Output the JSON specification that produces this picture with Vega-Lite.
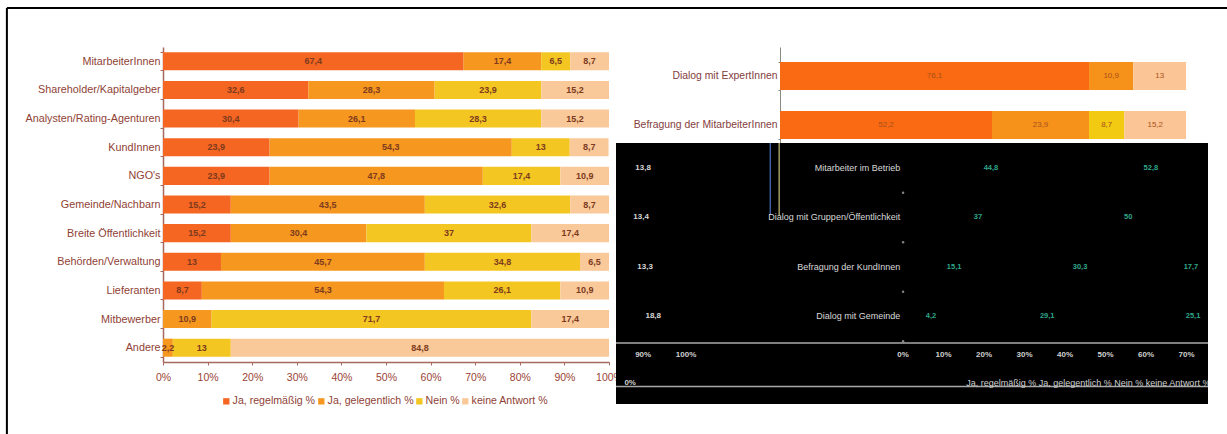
{
  "$schema": "https://vega.github.io/schema/vega-lite/v6.json",
  "padding": {"left": 5, "top": 7, "right": 0, "bottom": 0},
  "background": "#ffffff",
  "config": {
    "font": "Liberation Sans",
    "view": {"stroke": null}
  },
  "datasets": {
    "stakeholder": [
      {"gruppe": "MitarbeiterInnen", "antwort": "Ja, regelmäßig %", "ord": 1, "value": 67.4},
      {"gruppe": "MitarbeiterInnen", "antwort": "Ja, gelegentlich %", "ord": 2, "value": 17.4},
      {"gruppe": "MitarbeiterInnen", "antwort": "Nein %", "ord": 3, "value": 6.5},
      {"gruppe": "MitarbeiterInnen", "antwort": "keine Antwort %", "ord": 4, "value": 8.7},
      {"gruppe": "Shareholder/Kapitalgeber", "antwort": "Ja, regelmäßig %", "ord": 1, "value": 32.6},
      {"gruppe": "Shareholder/Kapitalgeber", "antwort": "Ja, gelegentlich %", "ord": 2, "value": 28.3},
      {"gruppe": "Shareholder/Kapitalgeber", "antwort": "Nein %", "ord": 3, "value": 23.9},
      {"gruppe": "Shareholder/Kapitalgeber", "antwort": "keine Antwort %", "ord": 4, "value": 15.2},
      {"gruppe": "Analysten/Rating-Agenturen", "antwort": "Ja, regelmäßig %", "ord": 1, "value": 30.4},
      {"gruppe": "Analysten/Rating-Agenturen", "antwort": "Ja, gelegentlich %", "ord": 2, "value": 26.1},
      {"gruppe": "Analysten/Rating-Agenturen", "antwort": "Nein %", "ord": 3, "value": 28.3},
      {"gruppe": "Analysten/Rating-Agenturen", "antwort": "keine Antwort %", "ord": 4, "value": 15.2},
      {"gruppe": "KundInnen", "antwort": "Ja, regelmäßig %", "ord": 1, "value": 23.9},
      {"gruppe": "KundInnen", "antwort": "Ja, gelegentlich %", "ord": 2, "value": 54.3},
      {"gruppe": "KundInnen", "antwort": "Nein %", "ord": 3, "value": 13},
      {"gruppe": "KundInnen", "antwort": "keine Antwort %", "ord": 4, "value": 8.7},
      {"gruppe": "NGO's", "antwort": "Ja, regelmäßig %", "ord": 1, "value": 23.9},
      {"gruppe": "NGO's", "antwort": "Ja, gelegentlich %", "ord": 2, "value": 47.8},
      {"gruppe": "NGO's", "antwort": "Nein %", "ord": 3, "value": 17.4},
      {"gruppe": "NGO's", "antwort": "keine Antwort %", "ord": 4, "value": 10.9},
      {"gruppe": "Gemeinde/Nachbarn", "antwort": "Ja, regelmäßig %", "ord": 1, "value": 15.2},
      {"gruppe": "Gemeinde/Nachbarn", "antwort": "Ja, gelegentlich %", "ord": 2, "value": 43.5},
      {"gruppe": "Gemeinde/Nachbarn", "antwort": "Nein %", "ord": 3, "value": 32.6},
      {"gruppe": "Gemeinde/Nachbarn", "antwort": "keine Antwort %", "ord": 4, "value": 8.7},
      {"gruppe": "Breite Öffentlichkeit", "antwort": "Ja, regelmäßig %", "ord": 1, "value": 15.2},
      {"gruppe": "Breite Öffentlichkeit", "antwort": "Ja, gelegentlich %", "ord": 2, "value": 30.4},
      {"gruppe": "Breite Öffentlichkeit", "antwort": "Nein %", "ord": 3, "value": 37},
      {"gruppe": "Breite Öffentlichkeit", "antwort": "keine Antwort %", "ord": 4, "value": 17.4},
      {"gruppe": "Behörden/Verwaltung", "antwort": "Ja, regelmäßig %", "ord": 1, "value": 13},
      {"gruppe": "Behörden/Verwaltung", "antwort": "Ja, gelegentlich %", "ord": 2, "value": 45.7},
      {"gruppe": "Behörden/Verwaltung", "antwort": "Nein %", "ord": 3, "value": 34.8},
      {"gruppe": "Behörden/Verwaltung", "antwort": "keine Antwort %", "ord": 4, "value": 6.5},
      {"gruppe": "Lieferanten", "antwort": "Ja, regelmäßig %", "ord": 1, "value": 8.7},
      {"gruppe": "Lieferanten", "antwort": "Ja, gelegentlich %", "ord": 2, "value": 54.3},
      {"gruppe": "Lieferanten", "antwort": "Nein %", "ord": 3, "value": 26.1},
      {"gruppe": "Lieferanten", "antwort": "keine Antwort %", "ord": 4, "value": 10.9},
      {"gruppe": "Mitbewerber", "antwort": "Ja, gelegentlich %", "ord": 2, "value": 10.9},
      {"gruppe": "Mitbewerber", "antwort": "Nein %", "ord": 3, "value": 71.7},
      {"gruppe": "Mitbewerber", "antwort": "keine Antwort %", "ord": 4, "value": 17.4},
      {"gruppe": "Andere", "antwort": "Ja, gelegentlich %", "ord": 2, "value": 2.2},
      {"gruppe": "Andere", "antwort": "Nein %", "ord": 3, "value": 13},
      {"gruppe": "Andere", "antwort": "keine Antwort %", "ord": 4, "value": 84.8}
    ],
    "dialog": [
      {"form": "Dialog mit ExpertInnen", "antwort": "Ja, regelmäßig %", "ord": 1, "value": 76.1},
      {"form": "Dialog mit ExpertInnen", "antwort": "Ja, gelegentlich %", "ord": 2, "value": 10.9},
      {"form": "Dialog mit ExpertInnen", "antwort": "keine Antwort %", "ord": 4, "value": 13},
      {"form": "Befragung der MitarbeiterInnen", "antwort": "Ja, regelmäßig %", "ord": 1, "value": 52.2},
      {"form": "Befragung der MitarbeiterInnen", "antwort": "Ja, gelegentlich %", "ord": 2, "value": 23.9},
      {"form": "Befragung der MitarbeiterInnen", "antwort": "Nein %", "ord": 3, "value": 8.7},
      {"form": "Befragung der MitarbeiterInnen", "antwort": "keine Antwort %", "ord": 4, "value": 15.2}
    ],
    "rowNames": [
      {"name": "Mitarbeiter im Betrieb", "at": -0.7, "row": 1},
      {"name": "Dialog mit Gruppen/Öffentlichkeit", "at": -0.7, "row": 2},
      {"name": "Befragung der KundInnen", "at": -0.7, "row": 3},
      {"name": "Dialog mit Gemeinde", "at": -0.7, "row": 4}
    ],
    "rowTotals": [
      {"name": "13,8", "at": -64.2, "row": 1},
      {"name": "13,4", "at": -64.7, "row": 2},
      {"name": "13,3", "at": -63.7, "row": 3},
      {"name": "18,8", "at": -61.7, "row": 4}
    ],
    "rowValues": [
      {"name": "44,8", "at": 21.7, "row": 1},
      {"name": "52,8", "at": 61.2, "row": 1},
      {"name": "37", "at": 18.5, "row": 2},
      {"name": "50", "at": 55.6, "row": 2},
      {"name": "15,1", "at": 12.6, "row": 3},
      {"name": "30,3", "at": 43.7, "row": 3},
      {"name": "17,7", "at": 71.1, "row": 3},
      {"name": "4,2", "at": 6.9, "row": 4},
      {"name": "29,1", "at": 35.6, "row": 4},
      {"name": "25,1", "at": 71.6, "row": 4}
    ],
    "panelAxis": [
      {"name": "90%", "at": -64.2, "row": 4.78},
      {"name": "100%", "at": -53.6, "row": 4.78},
      {"name": "0%", "at": 0, "row": 4.78},
      {"name": "10%", "at": 10, "row": 4.78},
      {"name": "20%", "at": 20, "row": 4.78},
      {"name": "30%", "at": 30, "row": 4.78},
      {"name": "40%", "at": 40, "row": 4.78},
      {"name": "50%", "at": 50, "row": 4.78},
      {"name": "60%", "at": 60, "row": 4.78},
      {"name": "70%", "at": 70, "row": 4.78}
    ],
    "panelTicks": [
      {"at": 0, "row": 1.5},
      {"at": 0, "row": 2.5},
      {"at": 0, "row": 3.5},
      {"at": 0, "row": 4.5}
    ]
  },
  "bounds": "flush",
  "spacing": 7,
  "resolve": {"scale": {"color": "independent"}},
  "hconcat": [
    {
      "width": 446,
      "height": 315,
      "layer": [
        {
          "data": {"values": [{"x": -35, "from": 0, "to": 1}]},
          "mark": {"type": "rule", "color": "#000000", "strokeWidth": 2},
          "encoding": {
            "x": {"field": "x", "type": "quantitative", "scale": {"domain": [0, 100], "nice": false}, "axis": null},
            "y": {"field": "from", "type": "quantitative", "scale": {"domain": [0, 1], "range": [-39, 387]}, "axis": null},
            "y2": {"field": "to"}
          }
        },
        {
          "data": {"values": [{"from": -35, "to": 238.6, "y": 0}]},
          "mark": {"type": "rule", "color": "#000000", "strokeWidth": 2},
          "encoding": {
            "x": {"field": "from", "type": "quantitative", "scale": {"domain": [0, 100], "nice": false}, "axis": null},
            "x2": {"field": "to"},
            "y": {"field": "y", "type": "quantitative", "scale": {"domain": [0, 1], "range": [-39, 387]}, "axis": null}
          }
        },
        {
          "data": {"name": "stakeholder"},
          "mark": {"type": "bar"},
          "encoding": {
            "y": {
              "field": "gruppe", "type": "nominal", "sort": null, "title": null,
              "scale": {"paddingInner": 0.37, "paddingOuter": 0.185},
              "axis": {
                "labelColor": "#8f3f35", "labelFont": "Liberation Sans", "labelFontSize": 10.8, "labelLimit": 200,
                "labelPadding": 0, "tickColor": "#a9685e", "tickSize": 3, "tickBand": "extent",
                "domainColor": "#a9685e", "domainWidth": 1.5, "grid": false
              }
            },
            "x": {
              "field": "value", "type": "quantitative", "stack": "zero", "title": null,
              "scale": {"domain": [0, 100], "nice": false},
              "axis": {
                "values": [0, 10, 20, 30, 40, 50, 60, 70, 80, 90, 100], "labelExpr": "datum.value + '%'",
                "labelFlush": false, "labelOverlap": false,
                "labelColor": "#9a4435", "labelFontSize": 10.5, "labelPadding": 7, "tickColor": "#a9685e", "tickSize": 3,
                "domainColor": "#a9685e", "domainWidth": 1.5, "grid": false
              }
            },
            "color": {
              "field": "antwort", "type": "nominal",
              "scale": {
                "domain": ["Ja, regelmäßig %", "Ja, gelegentlich %", "Nein %", "keine Antwort %"],
                "range": ["#f46622", "#f6971f", "#f4c622", "#f9c99a"]
              },
              "legend": {
                "orient": "none", "legendX": 58, "legendY": 349, "direction": "horizontal", "columns": 4, "title": null,
                "symbolType": "square", "symbolSize": 40, "symbolStrokeWidth": 0, "labelOffset": 1, "columnPadding": 0,
                "labelColor": "#8f3f35", "labelFontSize": 10.6, "labelLimit": 200
              }
            },
            "order": {"field": "ord"}
          }
        },
        {
          "data": {"name": "stakeholder"},
          "mark": {
            "type": "text", "color": "#7d3a1e", "fontSize": 9, "fontWeight": "bold",
            "text": {"expr": "replace(format(datum.value, '.1~f'), '.', ',')"}
          },
          "encoding": {
            "y": {"field": "gruppe", "type": "nominal", "sort": null, "title": null, "axis": null, "scale": {"paddingInner": 0.37, "paddingOuter": 0.185}},
            "x": {"field": "value", "type": "quantitative", "stack": "zero", "bandPosition": 0.5, "axis": null},
            "order": {"field": "ord"}
          }
        }
      ],
      "resolve": {"scale": {"y": "independent"}, "axis": {"y": "independent", "x": "independent"}}
    },
    {
      "bounds": "flush",
      "spacing": 0,
      "vconcat": [
        {
          "width": 592,
          "height": 96,
          "data": {"name": "dialog"},
          "layer": [
            {
              "mark": {"type": "bar"},
              "encoding": {
                "y": {
                  "field": "form", "type": "nominal", "sort": null, "title": null,
                  "scale": {"paddingInner": 0.43, "paddingOuter": 0.194, "align": 0.787},
                  "axis": {
                    "offset": -164, "labelColor": "#84403e", "labelFontSize": 10.4, "labelLimit": 200, "labelPadding": 1,
                    "tickColor": "#8a8a80", "tickSize": 2, "tickBand": "extent", "domainColor": "#8a8a80", "grid": false
                  }
                },
                "x": {
                  "field": "value", "type": "quantitative", "stack": "zero", "title": null,
                  "scale": {"domain": [-40.4, 105.4], "nice": false},
                  "axis": null
                },
                "color": {
                  "field": "antwort", "type": "nominal",
                  "scale": {
                    "domain": ["Ja, regelmäßig %", "Ja, gelegentlich %", "Nein %", "keine Antwort %"],
                    "range": ["#f96a12", "#f6921a", "#f2ca12", "#fbc595"]
                  },
                  "legend": null
                },
                "order": {"field": "ord"}
              }
            },
            {
              "mark": {
                "type": "text", "color": "#a8501c", "fontSize": 8,
                "text": {"expr": "replace(format(datum.value, '.1~f'), '.', ',')"}
              },
              "encoding": {
                "y": {"field": "form", "type": "nominal", "sort": null, "title": null},
                "x": {"field": "value", "type": "quantitative", "stack": "zero", "bandPosition": 0.5},
                "order": {"field": "ord"}
              }
            }
          ]
        },
        {
          "width": 592,
          "height": 261,
          "view": {"fill": "#000000", "stroke": null},
          "encoding": {
            "x": {"field": "at", "type": "quantitative", "title": null, "scale": {"domain": [-70.9, 75.3], "nice": false}, "axis": null},
            "y": {"field": "row", "type": "quantitative", "title": null, "scale": {"domain": [0.495, 5.768], "reverse": true, "nice": false, "zero": false}, "axis": null}
          },
          "layer": [
            {
              "data": {"values": [{"at": -32.8, "row": 0.495, "end": 1.95}]},
              "mark": {"type": "rule", "color": "#3f5fa0", "strokeWidth": 1.5},
              "encoding": {"y2": {"field": "end"}}
            },
            {
              "data": {"values": [{"at": -30.6, "row": 0.495, "end": 1.95}]},
              "mark": {"type": "rule", "color": "#a09a60", "strokeWidth": 1.5},
              "encoding": {"y2": {"field": "end"}}
            },
            {
              "data": {"values": [{"at": -70.9, "end": 75.3, "row": 4.535}, {"at": -70.9, "end": 75.3, "row": 5.414}]},
              "mark": {"type": "rule", "color": "#a8a8a8", "strokeWidth": 1.5},
              "encoding": {"x2": {"field": "end"}}
            },
            {
              "data": {"name": "panelTicks"},
              "mark": {"type": "point", "filled": true, "color": "#bdbdbd", "size": 6}
            },
            {
              "data": {"name": "rowNames"},
              "mark": {"type": "text", "color": "#d8d8d8", "fontSize": 9, "align": "right"},
              "encoding": {"text": {"field": "name"}}
            },
            {
              "data": {"name": "rowTotals"},
              "mark": {"type": "text", "color": "#d8d8d8", "fontSize": 8, "fontWeight": "bold"},
              "encoding": {"text": {"field": "name"}}
            },
            {
              "data": {"name": "rowValues"},
              "mark": {"type": "text", "color": "#2fa78a", "fontSize": 7.5, "fontWeight": "bold"},
              "encoding": {"text": {"field": "name"}}
            },
            {
              "data": {"name": "panelAxis"},
              "mark": {"type": "text", "color": "#d0d0d0", "fontSize": 8, "fontWeight": "bold"},
              "encoding": {"text": {"field": "name"}}
            },
            {
              "data": {"values": [{"name": "Ja, regelmäßig %  Ja, gelegentlich %  Nein %  keine Antwort %", "at": 15.6, "row": 5.34}]},
              "mark": {"type": "text", "color": "#d0d0d0", "fontSize": 9, "align": "left", "clip": true},
              "encoding": {"text": {"field": "name"}}
            },
            {
              "data": {"values": [{"name": "0%", "at": -67.4, "row": 5.34}]},
              "mark": {"type": "text", "color": "#d0d0d0", "fontSize": 8, "fontWeight": "bold"},
              "encoding": {"text": {"field": "name"}}
            }
          ]
        }
      ]
    }
  ]
}
